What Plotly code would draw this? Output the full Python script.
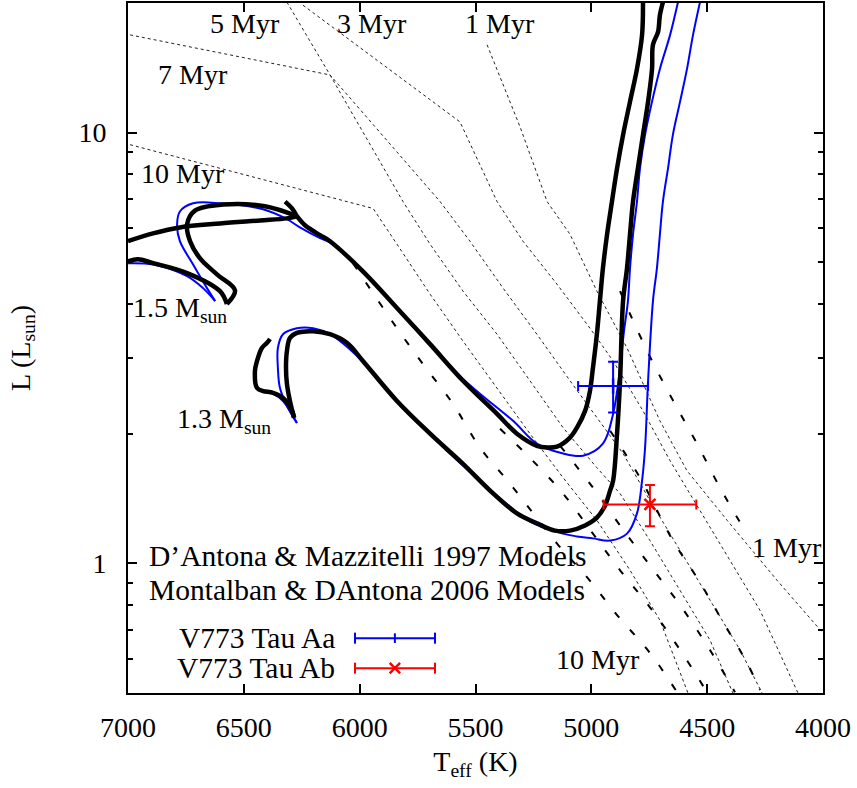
import numpy as np
import plotly.graph_objects as go

# ---------------- data (Teff in K, log10 L/Lsun) ----------------
# 1.5 Msun, D'Antona & Mazzitelli 1997 (black)
dm15_T = [4777, 4781, 4803, 4833, 4863, 4889, 4911, 4932, 4950, 4963, 4976, 4993, 5006, 5027,
          5062, 5092, 5148, 5191, 5235, 5321, 5407, 5554, 5696, 5839, 5986, 6128, 6171, 6236,
          6271, 6292, 6322]
dm15_logL = [1.303, 1.227, 1.148, 1.072, 0.995, 0.917, 0.840, 0.764, 0.685, 0.609, 0.532, 0.454,
             0.400, 0.354, 0.315, 0.292, 0.271, 0.269, 0.273, 0.301, 0.347, 0.424, 0.509, 0.593,
             0.678, 0.748, 0.762, 0.785, 0.806, 0.824, 0.840]
dm15b_T = [7000, 6892, 6776, 6603, 6430, 6314, 6271, 6409, 6590, 6711, 6745, 6732, 6689, 6616,
           6538, 6573, 6603, 6745, 6892, 6957, 7000]
dm15b_logL = [0.748, 0.766, 0.780, 0.789, 0.796, 0.801, 0.806, 0.829, 0.833, 0.819, 0.787, 0.748,
              0.708, 0.671, 0.634, 0.602, 0.632, 0.674, 0.697, 0.706, 0.701]

# 1.5 Msun, Montalban & D'Antona 2006 (blue)
md15_T = [4626, 4660, 4704, 4738, 4768, 4790, 4803, 4820, 4833, 4842, 4859, 4876, 4906, 4950,
          5036, 5122, 5235, 5338, 5481, 5554, 5696, 5839, 5986, 6128, 6171, 6258, 6314, 6417,
          6603, 6719, 6776, 6788, 6776, 6719, 6659, 6624, 6676, 6745, 6892, 6991, 7000]
md15_logL = [1.303, 1.227, 1.148, 1.072, 0.995, 0.917, 0.840, 0.764, 0.685, 0.609, 0.539, 0.454,
             0.347, 0.278, 0.250, 0.255, 0.278, 0.331, 0.394, 0.428, 0.509, 0.593, 0.678, 0.745,
             0.755, 0.780, 0.799, 0.822, 0.836, 0.836, 0.817, 0.787, 0.748, 0.694, 0.639, 0.609,
             0.639, 0.667, 0.694, 0.697, 0.697]

# 1.3 Msun, D'Antona & Mazzitelli 1997 (black)
dm13_T = [4691, 4704, 4712, 4734, 4738, 4755, 4777, 4799, 4820, 4833, 4846, 4863, 4876, 4889,
          4906, 4919, 4941, 4976, 5027, 5092, 5157, 5235, 5321, 5437, 5554, 5696, 5839, 5986,
          6055, 6128, 6201, 6271, 6301, 6314, 6318, 6314, 6301, 6283, 6292, 6331, 6374, 6417,
          6443, 6452, 6443, 6422, 6400, 6387]
dm13_logL = [1.303, 1.273, 1.234, 1.204, 1.148, 1.072, 0.995, 0.917, 0.840, 0.764, 0.685, 0.609,
             0.424, 0.301, 0.192, 0.169, 0.134, 0.106, 0.088, 0.076, 0.076, 0.093, 0.116, 0.169,
             0.231, 0.301, 0.377, 0.470, 0.512, 0.532, 0.539, 0.535, 0.523, 0.493, 0.454, 0.417,
             0.377, 0.338, 0.354, 0.384, 0.396, 0.400, 0.407, 0.447, 0.470, 0.500, 0.512, 0.521]

# 1.3 Msun, Montalban & D'Antona 2006 (blue)
md13_T = [4531, 4561, 4587, 4617, 4648, 4669, 4691, 4704, 4717, 4734, 4755, 4768, 4781, 4803,
          4846, 4919, 4993, 5062, 5122, 5265, 5407, 5554, 5696, 5839, 5986, 6128, 6201, 6271,
          6331, 6353, 6353, 6344, 6314, 6271, 6331, 6374, 6443, 6452]
md13_logL = [1.303, 1.227, 1.148, 1.072, 0.995, 0.917, 0.840, 0.764, 0.685, 0.609, 0.424, 0.269,
             0.192, 0.116, 0.069, 0.053, 0.058, 0.0625, 0.069, 0.097, 0.157, 0.227, 0.299, 0.375,
             0.468, 0.532, 0.546, 0.546, 0.532, 0.500, 0.454, 0.407, 0.366, 0.326, 0.377, 0.394,
             0.405, 0.454]

# DM97 isochrones (dotted)
iso_dm_1_T = [5450, 5308, 5191, 5092, 4976, 4846, 4704, 4587, 4414, 4199, 4000]
iso_dm_1_logL = [1.204, 1.014, 0.840, 0.764, 0.632, 0.500, 0.331, 0.215, 0.100, -0.039, -0.162]
iso_dm_3_T = [6245, 5567, 5407, 5295, 5148, 5006, 4906, 4777, 4660, 4531, 4401, 4272, 4108]
iso_dm_3_logL = [1.296, 1.025, 0.840, 0.748, 0.648, 0.546, 0.470, 0.354, 0.238, 0.123, 0.007,
                 -0.109, -0.301]
iso_dm_5_T = [6314, 6128, 5653, 5524, 5381, 5235, 5092, 4976, 4863, 4747, 4617, 4488, 4358, 4263]
iso_dm_5_logL = [1.303, 1.134, 0.840, 0.748, 0.639, 0.532, 0.424, 0.338, 0.255, 0.146, 0.030,
                 -0.086, -0.201, -0.301]
iso_dm_7_T = [6991, 6344, 6128, 5813, 5696, 5554, 5407, 5265, 5122, 4976, 4876, 4747, 4617, 4488,
              4389]
iso_dm_7_logL = [1.227, 1.157, 1.134, 0.840, 0.741, 0.632, 0.532, 0.424, 0.315, 0.222, 0.162,
                 0.053, -0.0625, -0.178, -0.301]
iso_dm_10_T = [6991, 6258, 5942, 5839, 5696, 5554, 5407, 5265, 5122, 4976, 4833, 4704, 4583]
iso_dm_10_logL = [0.972, 0.868, 0.824, 0.741, 0.625, 0.516, 0.407, 0.301, 0.199, 0.100, -0.016,
                  -0.132, -0.301]

# MD06 isochrones (dashed)
iso_md_a_T = [6029, 5839, 5727, 5597, 5481, 5351, 5148, 5019, 4889, 4747, 4630]
iso_md_a_logL = [0.697, 0.546, 0.463, 0.370, 0.269, 0.185, 0.046, -0.032, -0.120, -0.208, -0.299]
iso_md_b_T = [5394, 5265, 5122, 4993, 4876, 4747, 4617, 4501]
iso_md_b_logL = [0.3125, 0.245, 0.162, 0.069, -0.016, -0.102, -0.201, -0.299]
iso_md_c_T = [5135, 4993, 4876, 4747, 4617, 4488, 4380]
iso_md_c_logL = [0.273, 0.176, 0.088, -0.005, -0.097, -0.201, -0.299]
iso_md_d_T = [4919, 4790, 4648, 4531, 4436, 4328, 4272]
iso_md_d_logL = [0.308, 0.199, 0.053, -0.044, -0.132, -0.231, -0.294]
iso_md_e_T = [4876, 4833, 4738, 4639, 4544, 4445, 4337]
iso_md_e_logL = [0.632, 0.579, 0.470, 0.370, 0.278, 0.176, 0.076]

# V773 Tau components
star_T = {"Aa": 4906, "Ab": 4747}
star_Terr = {"Aa": 151, "Ab": 200}
star_L = {"Aa": 2.58, "Ab": 1.37}
star_Lerr_hi = {"Aa": 0.36, "Ab": 0.15}
star_Lerr_lo = {"Aa": 0.34, "Ab": 0.15}

FONT = "Liberation Serif, Times New Roman, serif"
FS = 28
FS_KEY = 29.5

fig = go.Figure()


def add_line(T, logL, color, width, dash="solid", shape="linear", breaks=()):
    """Draw a curve; split at cusp indices so the spline keeps sharp corners."""
    cuts = [0] + list(breaks) + [len(T) - 1]
    for a, b in zip(cuts[:-1], cuts[1:]):
        fig.add_trace(go.Scatter(x=T[a:b + 1], y=[10 ** v for v in logL[a:b + 1]], mode="lines",
                                 line=dict(color=color, width=width, dash=dash, shape=shape,
                                           smoothing=1.0 if shape == "spline" else None),
                                 showlegend=False, hoverinfo="skip"))


for T, lg in [(iso_dm_1_T, iso_dm_1_logL), (iso_dm_3_T, iso_dm_3_logL),
              (iso_dm_5_T, iso_dm_5_logL), (iso_dm_7_T, iso_dm_7_logL),
              (iso_dm_10_T, iso_dm_10_logL)]:
    add_line(T, lg, "#222222", 1, "dot")
for T, lg in [(iso_md_a_T, iso_md_a_logL), (iso_md_b_T, iso_md_b_logL),
              (iso_md_c_T, iso_md_c_logL), (iso_md_d_T, iso_md_d_logL),
              (iso_md_e_T, iso_md_e_logL)]:
    add_line(T, lg, "black", 2, "7px,16px", "spline")

add_line(md15_T, md15_logL, "#0000ff", 2, shape="spline", breaks=(35,))
add_line(md13_T, md13_logL, "#0000ff", 2, shape="spline", breaks=(33,))
add_line(dm15_T, dm15_logL, "black", 4.5, shape="spline", breaks=(28,))
add_line(dm15b_T, dm15b_logL, "black", 4.5, shape="spline", breaks=(6, 15))
add_line(dm13_T, dm13_logL, "black", 4.5, shape="spline", breaks=(37,))

for key, col, sym in [("Aa", "#0000ff", "line-ns"), ("Ab", "#ff0000", "x-thin")]:
    fig.add_trace(go.Scatter(
        x=[star_T[key]], y=[star_L[key]], mode="markers",
        marker=dict(symbol=sym, size=11, color=col, line=dict(color=col, width=2.5)),
        error_x=dict(type="data", array=[star_Terr[key]], color=col, thickness=2, width=5),
        error_y=dict(type="data", array=[star_Lerr_hi[key]], arrayminus=[star_Lerr_lo[key]],
                     color=col, thickness=2, width=5),
        showlegend=False, hoverinfo="skip"))

# ---- text labels (paper coordinates) ----
labels = [
    ("5 Myr", 0.168, 0.970, "center", FS), ("3 Myr", 0.351, 0.970, "center", FS),
    ("1 Myr", 0.535, 0.970, "center", FS), ("7 Myr", 0.094, 0.897, "center", FS),
    ("10 Myr", 0.079, 0.753, "center", FS), ("1 Myr", 0.948, 0.211, "center", FS),
    ("10 Myr", 0.676, 0.048, "center", FS),
    ("1.5 M<sub>sun</sub>", 0.004, 0.556, "left", FS),
    ("1.3 M<sub>sun</sub>", 0.068, 0.395, "left", FS),
    ("D\u2019Antona & Mazzitelli 1997 Models", 0.027, 0.199, "left", FS_KEY),
    ("Montalban & DAntona 2006 Models", 0.027, 0.149, "left", FS_KEY),
    ("V773 Tau Aa", 0.301, 0.0795, "right", FS_KEY), ("V773 Tau Ab", 0.301, 0.036, "right", FS_KEY),
]
for txt, x, y, anc, fs in labels:
    fig.add_annotation(x=x, y=y, xref="paper", yref="paper", text=txt, showarrow=False,
                       xanchor=anc, yanchor="middle", font=dict(family=FONT, size=fs, color="black"))

# ---- legend samples (paper coordinates) ----
for yv, col, mark in [(0.0795, "#0000ff", "+"), (0.036, "#ff0000", "x")]:
    x0, x1, xm = 0.3266, 0.4417, 0.384
    fig.add_shape(type="line", xref="paper", yref="paper", x0=x0, x1=x1, y0=yv, y1=yv,
                  line=dict(color=col, width=2))
    for xc in (x0, x1):
        fig.add_shape(type="line", xref="paper", yref="paper", x0=xc, x1=xc, y0=yv - 0.008,
                      y1=yv + 0.008, line=dict(color=col, width=2))
    if mark == "+":
        fig.add_shape(type="line", xref="paper", yref="paper", x0=xm, x1=xm, y0=yv - 0.007,
                      y1=yv + 0.007, line=dict(color=col, width=2))
    else:
        dx, dy = 0.0075, 0.0075
        fig.add_shape(type="line", xref="paper", yref="paper", x0=xm - dx, x1=xm + dx,
                      y0=yv - dy, y1=yv + dy, line=dict(color=col, width=2.5))
        fig.add_shape(type="line", xref="paper", yref="paper", x0=xm - dx, x1=xm + dx,
                      y0=yv + dy, y1=yv - dy, line=dict(color=col, width=2.5))

x_ticks = [7000, 6500, 6000, 5500, 5000, 4500, 4000]
y_ticks = [1, 10]
y_minor = [0.5, 0.6, 0.7, 0.8, 0.9, 2, 3, 4, 5, 6, 7, 8, 9, 20]

fig.update_xaxes(range=[7000, 4000], tickvals=x_ticks, ticktext=[str(v) for v in x_ticks],
                 ticks="inside", ticklen=9, tickwidth=1.5, tickcolor="black",
                 showline=True, linecolor="black", linewidth=2, mirror="allticks",
                 showgrid=False, zeroline=False, ticklabelstandoff=8,
                 tickfont=dict(family=FONT, size=FS, color="black"),
                 title=dict(text="T<sub>eff</sub> (K)", font=dict(family=FONT, size=FS, color="black"),
                            standoff=10))
fig.update_yaxes(type="log", range=[np.log10(0.5), np.log10(20)], tickvals=y_ticks,
                 ticktext=["1", "10"], ticks="inside", ticklen=9, tickwidth=1.5, tickcolor="black",
                 minor=dict(tickvals=y_minor, ticks="inside", ticklen=5, tickwidth=1.5,
                            tickcolor="black", showgrid=False),
                 showline=True, linecolor="black", linewidth=2, mirror="allticks",
                 showgrid=False, zeroline=False, ticklabelstandoff=14,
                 tickfont=dict(family=FONT, size=FS, color="black"),
                 title=dict(text="L (L<sub>sun</sub>)", font=dict(family=FONT, size=FS, color="black"),
                            standoff=40))

fig.update_layout(width=857, height=788, margin=dict(l=128, r=34, t=1, b=95),
                  paper_bgcolor="white", plot_bgcolor="white",
                  font=dict(family=FONT, size=FS, color="black"))

fig.write_html("out.html")
